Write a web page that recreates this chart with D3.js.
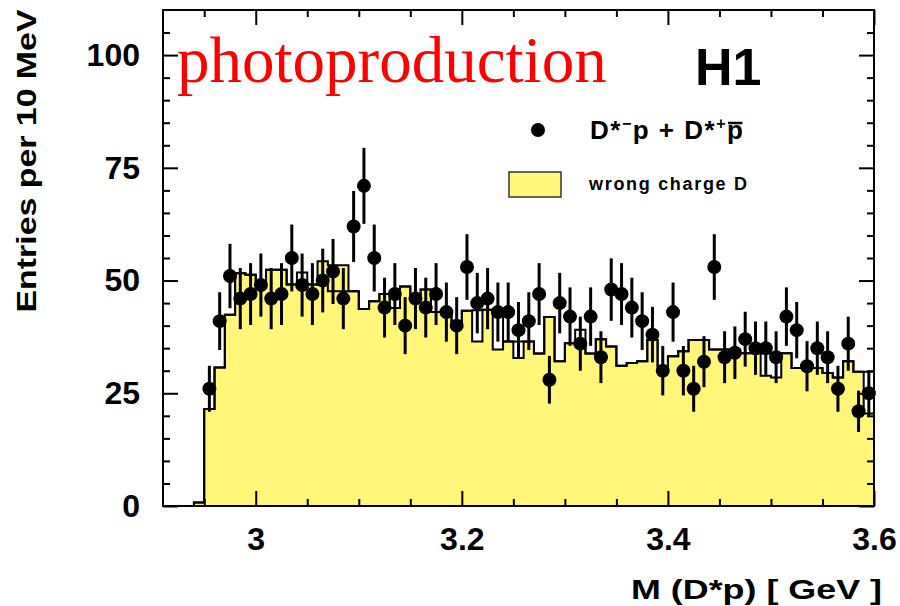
<!DOCTYPE html>
<html>
<head>
<meta charset="utf-8">
<script src="https://cdn.jsdelivr.net/npm/d3@7"></script>
<style>
  body { margin: 0; background: #fff; }
  svg { display: block; }
  .sans { font-family: "Liberation Sans", Arial, Helvetica, sans-serif; font-weight: bold; }
</style>
</head>
<body>
<div id="chart"></div>
<script>
// ======= data ========
// histogram bins are 10 MeV wide
var binStart = 2.94;
var binWidth = 0.01;

// D*- p + D*+ pbar, one entry per bin starting at 2.95 GeV
var dataStart = 2.95;
var dataCounts = [26, 41, 51, 46, 47, 49, 46, 47, 55, 49,
                  47, 50, 52, 46, 62, 71, 55, 44, 47, 40,
                  46, 44, 47, 43, 40, 53, 45, 46, 43, 43,
                  39, 41, 47, 28, 45, 42, 36, 42, 33, 48,
                  47, 44, 41, 38, 30, 43, 30, 26, 32, 53,
                  33, 34, 37, 35, 35, 33, 42, 39, 31, 35,
                  33, 26, 36, 21, 25];

// wrong charge D (filled), bins starting at 2.94 GeV
var wrongCharge = [0.8,
                   21.5, 30.7, 42.4, 51.6, 51.3, 49.1, 52.4, 52.4, 49.1, 49.5,
                   49.1, 54.3, 53.4, 53.4, 47.6, 43.7, 45.4, 47.0, 43.9, 48.7,
                   45.8, 48.0, 43.0, 43.0, 40.7, 43.3, 36.5, 43.5, 34.7, 36.5,
                   32.8, 36.5, 33.8, 41.9, 32.1, 36.1, 36.1, 33.8, 37.0, 35.4,
                   31.1, 31.7, 32.1, 36.8, 31.0, 33.2, 34.3, 36.8, 36.8, 34.7,
                   34.7, 34.7, 33.9, 33.9, 28.9, 28.5, 33.9, 30.6, 30.6, 30.6,
                   29.5, 28.5, 32.1, 29.8, 20.5];

// second (open) histogram, same bins
var openHist = [0.8,
                21.5, 30.7, 42.4, 51.6, 51.3, 49.1, 52.4, 52.4, 49.1, 51.8,
                49.1, 49.0, 47.6, 47.6, 47.6, 43.7, 45.4, 47.0, 43.9, 48.7,
                45.8, 48.0, 43.0, 43.0, 40.7, 43.3, 43.4, 43.5, 43.2, 36.5,
                36.5, 36.5, 33.8, 41.9, 32.1, 36.1, 39.1, 33.8, 37.0, 35.4,
                31.1, 31.7, 32.1, 36.8, 31.0, 33.2, 34.3, 36.8, 36.8, 34.7,
                34.7, 34.7, 33.9, 33.9, 33.9, 33.9, 33.9, 30.6, 30.6, 30.6,
                29.5, 28.5, 32.1, 29.8, 29.8];

var xMajor = [3, 3.2, 3.4, 3.6];
var xMinor = [2.95, 3.05, 3.1, 3.15, 3.25, 3.3, 3.35, 3.45, 3.5, 3.55];
var yMajor = [0, 25, 50, 75, 100];
var yMinor = [5, 10, 15, 20, 30, 35, 40, 45, 55, 60, 65, 70, 80, 85, 90, 95, 105];

var width = 900;
var height = 606;
var yellow = "#fff67a";

var svg = d3.select("#chart")
  .append("svg")
    .attr("width", width)
    .attr("height", height);

var x = d3.scaleLinear()
    .domain([2.91, 3.6])
    .range([163, 874]);

var y = d3.scaleLinear()
    .domain([0, 110])
    .range([506, 10]);

// ======= histograms ========

function steps(values) {
    var pts = [[binStart, 0]];
    values.forEach(function(v, i) {
        var lo = binStart + i * binWidth;
        pts.push([lo, v]);
        pts.push([lo + binWidth, v]);
    });
    pts.push([binStart + values.length * binWidth, 0]);
    return pts;
}

var line = d3.line()
    .x(function(d) { return x(d[0]); })
    .y(function(d) { return y(d[1]); });

var area = d3.area()
    .x(function(d) { return x(d[0]); })
    .y0(y(0))
    .y1(function(d) { return y(d[1]); });

svg.append("path")
    .attr("d", area(steps(wrongCharge)))
    .style("fill", yellow);

svg.append("path")
    .attr("d", line(steps(wrongCharge)))
    .style("fill", "none")
    .style("stroke", "black")
    .style("stroke-width", 2);

svg.append("path")
    .attr("d", line(steps(openHist)))
    .style("fill", "none")
    .style("stroke", "black")
    .style("stroke-width", 2);

// ======= data points ========

var pts = svg.append("g").attr("class", "points");

pts.selectAll(".err")
    .data(dataCounts)
  .enter().append("line")
    .attr("class", "err")
    .attr("x1", function(d, i) { return x(dataStart + (i + 0.5) * binWidth); })
    .attr("x2", function(d, i) { return x(dataStart + (i + 0.5) * binWidth); })
    .attr("y1", function(d) { return y(d + Math.sqrt(d)); })
    .attr("y2", function(d) { return y(d - Math.sqrt(d)); })
    .style("stroke", "black")
    .style("stroke-width", 3);

pts.selectAll(".dot")
    .data(dataCounts)
  .enter().append("circle")
    .attr("class", "dot")
    .attr("cx", function(d, i) { return x(dataStart + (i + 0.5) * binWidth); })
    .attr("cy", function(d) { return y(d); })
    .attr("r", 7)
    .style("fill", "black");

// ======= axes ========

function drawAxis(axis, transform) {
    var g = svg.append("g")
        .attr("class", "sans")
        .attr("transform", transform)
        .call(axis);
    g.select(".domain").remove();
    g.selectAll(".tick line").style("stroke", "black").style("stroke-width", 2);
    g.selectAll("text").style("font-size", "32px").style("fill", "black")
        .attr("font-family", null).style("font-family", "'Liberation Sans', Arial, sans-serif");
    return g;
}

var bottom = "translate(0," + y(0) + ")";
var top_ = "translate(0," + y(110) + ")";
var left = "translate(" + x(2.91) + ",0)";
var right = "translate(" + x(3.6) + ",0)";

drawAxis(d3.axisBottom(x).tickValues(xMajor).tickSize(-15).tickPadding(21)
    .tickFormat(function(d) { return String(d); }), bottom);
drawAxis(d3.axisBottom(x).tickValues(xMinor).tickSize(-7).tickFormat(""), bottom);
drawAxis(d3.axisTop(x).tickValues(xMajor).tickSize(-15).tickFormat(""), top_);
drawAxis(d3.axisTop(x).tickValues(xMinor).tickSize(-7).tickFormat(""), top_);

drawAxis(d3.axisLeft(y).tickValues(yMajor).tickSize(-15).tickPadding(23), left);
drawAxis(d3.axisLeft(y).tickValues(yMinor).tickSize(-7).tickFormat(""), left);
drawAxis(d3.axisRight(y).tickValues(yMajor).tickSize(-15).tickFormat(""), right);
drawAxis(d3.axisRight(y).tickValues(yMinor).tickSize(-7).tickFormat(""), right);

svg.append("rect")
    .attr("x", x(2.91))
    .attr("y", y(110))
    .attr("width", x(3.6) - x(2.91))
    .attr("height", y(0) - y(110))
    .style("fill", "none")
    .style("stroke", "black")
    .style("stroke-width", 2);

// ======= titles ========

svg.append("text")
    .attr("class", "sans")
    .attr("transform", "translate(36,161) rotate(-90)")
    .attr("text-anchor", "middle")
    .attr("textLength", 303)
    .attr("lengthAdjust", "spacingAndGlyphs")
    .style("font-size", "28px")
    .text("Entries per 10 MeV");

svg.append("text")
    .attr("class", "sans")
    .attr("x", 631)
    .attr("y", 599)
    .attr("textLength", 251)
    .attr("lengthAdjust", "spacingAndGlyphs")
    .style("font-size", "28px")
    .text("M (D*p) [ GeV ]");

svg.append("text")
    .attr("x", 177)
    .attr("y", 82)
    .style("font-family", "'Liberation Serif', 'Times New Roman', serif")
    .style("font-size", "65px")
    .style("fill", "#ff0000")
    .text("photoproduction");

svg.append("text")
    .attr("class", "sans")
    .attr("x", 695)
    .attr("y", 85)
    .style("font-size", "52px")
    .text("H1");

// ======= legend ========

svg.append("circle")
    .attr("cx", 538)
    .attr("cy", 130)
    .attr("r", 7)
    .style("fill", "black");

var lt = svg.append("text")
    .attr("class", "sans")
    .attr("x", 590)
    .attr("y", 139)
    .style("font-size", "26px")
    .style("letter-spacing", "1.5px");
lt.append("tspan").text("D*");
lt.append("tspan").attr("dy", -10).style("font-size", "16px").text("\u2212");
lt.append("tspan").attr("dy", 10).text("p + D*");
lt.append("tspan").attr("dy", -10).style("font-size", "16px").text("+");
lt.append("tspan").attr("dy", 10).text("p");

var nChars = lt.text().length;
var pBox = lt.node().getExtentOfChar(nChars - 1);
svg.append("line")
    .attr("x1", pBox.x + 1)
    .attr("x2", pBox.x + pBox.width - 2)
    .attr("y1", 123)
    .attr("y2", 123)
    .style("stroke", "black")
    .style("stroke-width", 2.5);

svg.append("rect")
    .attr("x", 509)
    .attr("y", 172)
    .attr("width", 52)
    .attr("height", 25)
    .style("fill", yellow)
    .style("stroke", "#333")
    .style("stroke-width", 1.5);

svg.append("text")
    .attr("class", "sans")
    .attr("x", 589)
    .attr("y", 190)
    .attr("textLength", 158)
    .attr("lengthAdjust", "spacing")
    .style("font-size", "18px")
    .text("wrong charge D");
</script>
</body>
</html>
